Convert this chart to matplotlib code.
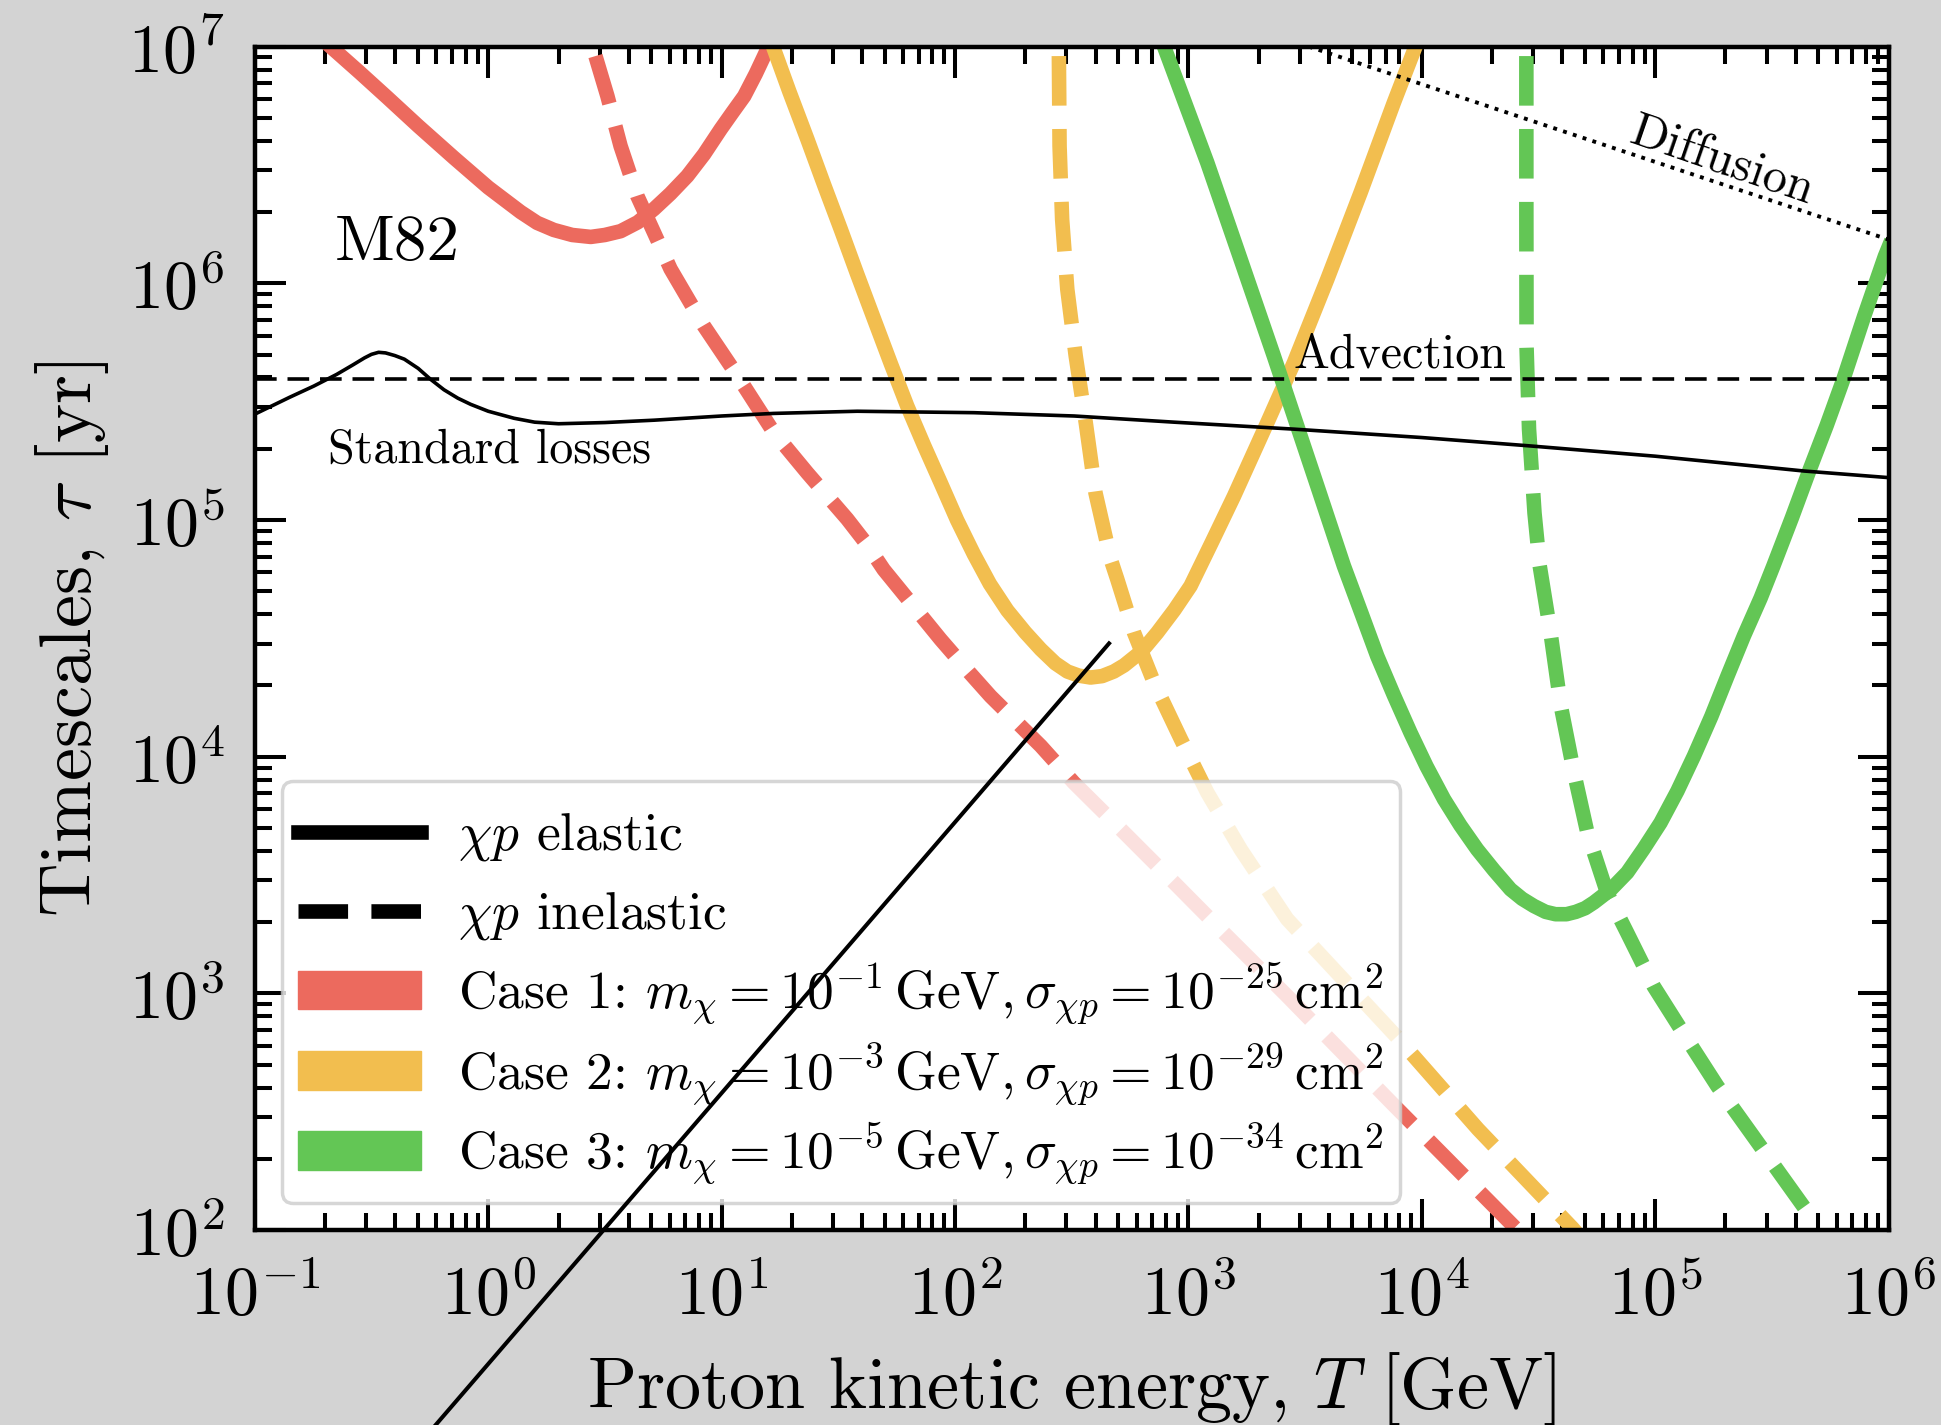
import numpy as np
import matplotlib
matplotlib.use("Agg")
import matplotlib.pyplot as plt
from matplotlib.lines import Line2D
from matplotlib.patches import Patch, Rectangle
from matplotlib.legend_handler import HandlerPatch, HandlerLine2D

plt.rcParams["font.family"] = "serif"
plt.rcParams["font.serif"] = ["cmr10"]
plt.rcParams["mathtext.fontset"] = "cm"
plt.rcParams["axes.formatter.use_mathtext"] = True

# values: T in GeV, tau in yr
T_std = [0.100, 0.141, 0.179, 0.224, 0.263, 0.295, 0.316, 0.339, 0.363, 0.398, 0.437, 0.501,
         0.566, 0.646, 0.741, 0.841, 1.0, 1.29, 1.58, 2.0, 3.16, 5.13, 10, 16.7, 38.1, 120.5,
         324, 867, 2831, 1.0e4, 2.83e4, 1.0e5, 4.35e5, 1.0e6]
tau_std = [2.80e5, 3.30e5, 3.68e5, 4.12e5, 4.52e5, 4.84e5, 5.01e5, 5.11e5, 5.08e5, 4.95e5,
           4.78e5, 4.37e5, 3.93e5, 3.55e5, 3.27e5, 3.08e5, 2.88e5, 2.69e5, 2.59e5, 2.55e5,
           2.58e5, 2.64e5, 2.75e5, 2.82e5, 2.88e5, 2.84e5, 2.75e5, 2.59e5, 2.42e5, 2.23e5,
           2.06e5, 1.86e5, 1.61e5, 1.51e5]

tau_adv = 3.93e5

T_diff = [3280, 1.0e6]
tau_diff = [1.0e7, 1.53e6]

# case 1
T_el1 = [0.211, 0.282, 0.369, 0.501, 0.713, 1.0, 1.377, 1.62, 1.91, 2.29, 2.75, 3.16, 3.69,
         4.37, 5.13, 6.03, 7.13, 8.41, 9.91, 11.1, 12.5, 14.0, 15.7, 16.6]
tau_el1 = [1.0e7, 7.76e6, 6.10e6, 4.62e6, 3.39e6, 2.54e6, 2.0e6, 1.80e6, 1.68e6, 1.60e6, 1.57e6,
           1.60e6, 1.66e6, 1.81e6, 2.06e6, 2.39e6, 2.84e6, 3.51e6, 4.48e6, 5.25e6, 6.18e6,
           7.67e6, 9.75e6, 1.1e7]
T_in1 = [2.88, 3.24, 3.69, 4.35, 5.13, 6.04, 8.39, 11.7, 16.7, 23.3, 34.5, 41.7, 49.5, 63.1,
         86.7, 112, 142, 233, 323, 530, 867, 1419, 2649, 7413, 2.57e4, 2.82e4]
tau_in1 = [9.12e6, 6.18e6, 3.80e6, 2.34e6, 1.64e6, 1.15e6, 6.61e5, 4.06e5, 2.35e5, 1.58e5,
           1.01e5, 7.94e4, 6.17e4, 4.60e4, 3.13e4, 2.34e4, 1.80e4, 1.11e4, 7.76e3, 4.78e3,
           2.94e3, 1.80e3, 975, 345, 100, 91]

# case 2
T_el2 = [16.2, 19.5, 23.3, 27.5, 32.4, 38.0, 45.0, 53.1, 62.4, 73.6, 86.7, 102, 120.5, 141,
         167.5, 200, 233, 269, 303, 339, 381, 427, 479, 530, 631, 735, 871, 1021, 1259, 1567,
         2178, 2831, 3936, 5470, 7586, 9397, 9772]
tau_el2 = [1.07e7, 6.46e6, 4.06e6, 2.60e6, 1.69e6, 1.10e6, 7.05e5, 4.57e5, 3.03e5, 2.07e5,
           1.44e5, 1.0e5, 7.16e4, 5.37e4, 4.15e4, 3.35e4, 2.84e4, 2.48e4, 2.29e4, 2.20e4,
           2.16e4, 2.19e4, 2.29e4, 2.43e4, 2.79e4, 3.34e4, 4.17e4, 5.26e4, 8.04e4, 1.26e5,
           2.58e5, 4.62e5, 1.04e6, 2.42e6, 5.79e6, 1.0e7, 1.12e7]
T_in2 = [278.6, 280.5, 287.7, 302.7, 328.9, 363.1, 399.9, 464.5, 495.5, 584.8, 711.2, 926.8,
         1205, 1675, 2649, 7943, 1.74e4, 4.42e4, 4.79e4]
tau_in2 = [9.12e6, 3.80e6, 1.86e6, 9.44e5, 4.93e5, 2.58e5, 1.30e5, 6.82e4, 5.62e4, 3.34e4,
           2.06e4, 1.19e4, 7.05e3, 4.06e3, 2.06e3, 643, 267, 102, 93]

# case 3
T_el3 = [758.6, 1205, 1675, 2323, 2831, 3631, 4634, 5495, 6442, 7586, 8954, 1.047e4, 1.245e4,
         1.462e4, 1.726e4, 2.04e4, 2.40e4, 2.69e4, 3.02e4, 3.39e4, 3.74e4, 4.17e4, 4.57e4,
         5.01e4, 5.46e4, 6.46e4, 7.59e4, 8.91e4, 1.054e5, 1.245e5, 1.466e5, 1.74e5, 2.04e5,
         2.40e5, 2.83e5, 3.21e5, 3.85e5, 4.60e5, 5.43e5, 6.40e5, 7.85e5, 9.64e5, 1.0e6]
tau_el3 = [1.10e7, 3.23e6, 1.26e6, 4.93e5, 2.75e5, 1.32e5, 6.40e4, 4.07e4, 2.66e4, 1.82e4,
           1.26e4, 9.12e3, 6.61e3, 5.13e3, 4.06e3, 3.31e3, 2.75e3, 2.51e3, 2.34e3, 2.21e3,
           2.16e3, 2.16e3, 2.21e3, 2.29e3, 2.42e3, 2.75e3, 3.24e3, 4.07e3, 5.26e3, 7.16e3,
           1.007e4, 1.48e4, 2.19e4, 3.24e4, 4.68e4, 6.40e4, 1.02e5, 1.64e5, 2.51e5, 3.93e5,
           7.24e5, 1.30e6, 1.42e6]
T_in3 = [2.805e4, 2.805e4, 2.81e4, 2.88e4, 3.04e4, 3.20e4, 3.56e4, 3.94e4, 4.49e4, 5.12e4,
         6.22e4, 7.59e4, 9.86e4, 1.371e5, 1.845e5, 4.61e5, 4.78e5]
tau_in3 = [9.12e6, 1.99e6, 5.43e5, 2.42e5, 1.07e5, 6.40e4, 3.34e4, 1.64e4, 8.55e3, 4.78e3,
           2.66e3, 1.80e3, 1.07e3, 640, 406, 115, 111]

# stray straight line crossing the figure
T_stray = [0.5, 457]
tau_stray = [12.3, 3.01e4]

case_colors = ["#ec6a5e", "#f2be4f", "#63c655"]
case_labels = [
    r"Case 1: $m_\chi = 10^{-1}\,\mathrm{GeV}, \sigma_{\chi p} = 10^{-25}\,\mathrm{cm}^2$",
    r"Case 2: $m_\chi = 10^{-3}\,\mathrm{GeV}, \sigma_{\chi p} = 10^{-29}\,\mathrm{cm}^2$",
    r"Case 3: $m_\chi = 10^{-5}\,\mathrm{GeV}, \sigma_{\chi p} = 10^{-34}\,\mathrm{cm}^2$",
]

fig = plt.figure(figsize=(19.41, 14.25), dpi=100, facecolor="#d3d3d3")
ax = fig.add_axes([0.1313, 0.1368, 0.8417, 0.8305])
ax.set_xscale("log")
ax.set_yscale("log")

lw = 10.5
dash = (0, (3.4, 1.6))
elastic = [(T_el1, tau_el1), (T_el2, tau_el2), (T_el3, tau_el3)]
inelastic = [(T_in1, tau_in1), (T_in2, tau_in2), (T_in3, tau_in3)]
for (te, ye), (ti, yi), c in zip(elastic, inelastic, case_colors):
    ax.plot(te, ye, color=c, lw=lw, zorder=2, solid_joinstyle="round")
    ax.plot(ti, yi, color=c, lw=lw, ls=dash, zorder=2)

ax.plot(T_std, tau_std, color="k", lw=2.6, zorder=3)
ax.axhline(tau_adv, color="k", lw=2.6, ls=(0, (6, 3)), zorder=3)
ax.plot(T_diff, tau_diff, color="k", lw=2.8, ls=":", zorder=3)
ax.plot(T_stray, tau_stray, color="k", lw=2.9, zorder=10, clip_on=False)

ax.set_xlim(1e-1, 1e6)
ax.set_ylim(1e2, 1e7)

ax.text(0.049, 0.820, "M82", transform=ax.transAxes, fontsize=47, va="baseline")
ax.text(0.0447, 0.648, "Standard losses", transform=ax.transAxes, fontsize=34.5, va="baseline")
ax.text(0.636, 0.7287, "Advection", transform=ax.transAxes, fontsize=34.5, va="baseline")
ax.text(0.898, 0.9033, "Diffusion", transform=ax.transAxes, fontsize=35,
        ha="center", va="center", rotation=-19, rotation_mode="anchor")

ax.set_xlabel(r"Proton kinetic energy, $T$ [GeV]", fontsize=52, labelpad=16)
ax.set_ylabel(r"Timescales, $\tau$ [yr]", fontsize=53.5, labelpad=12.5)

ax.tick_params(which="both", direction="in", top=True, right=True, width=2.9)
ax.tick_params(which="major", length=22, labelsize=49)
ax.tick_params(axis="x", which="major", pad=24)
ax.tick_params(axis="y", which="major", pad=22)
ax.tick_params(which="minor", length=12)
for s in ax.spines.values():
    s.set_linewidth(3.2)


def short_rect(legend, orig_handle, xdescent, ydescent, width, height, fontsize):
    # colour swatch keeps its own height while the rows stay evenly spaced
    h = 0.72 * fontsize
    return Rectangle((-xdescent, -ydescent + (height - h) / 2), width, h)


class CenteredLine(HandlerLine2D):
    def create_artists(self, legend, orig_handle, xdescent, ydescent, width, height,
                       fontsize, trans):
        arts = super().create_artists(legend, orig_handle, xdescent, ydescent, width,
                                      height, fontsize, trans)
        for a in arts:
            xd = np.asarray(a.get_xdata(), dtype=float)
            a.set_ydata(np.full_like(xd, height / 2 - ydescent))
        return arts


handles = [Line2D([], [], color="k", lw=lw),
           Line2D([], [], color="k", lw=lw, ls=dash)]
handles += [Patch(color=c) for c in case_colors]
labels = [r"$\chi p$ elastic", r"$\chi p$ inelastic"] + case_labels
leg = ax.legend(handles, labels, loc="lower left", bbox_to_anchor=(0.0166, 0.0228),
                borderaxespad=0, fontsize=38.5, handlelength=2.3, handleheight=1.65,
                handletextpad=0.7, borderpad=0.3, labelspacing=0.16,
                framealpha=0.8, edgecolor="0.8", fancybox=True,
                handler_map={Patch: HandlerPatch(patch_func=short_rect),
                             Line2D: CenteredLine()})
leg.get_frame().set_linewidth(2.5)
leg.set_zorder(5)

fig.savefig("out.png", dpi=100, facecolor=fig.get_facecolor())
